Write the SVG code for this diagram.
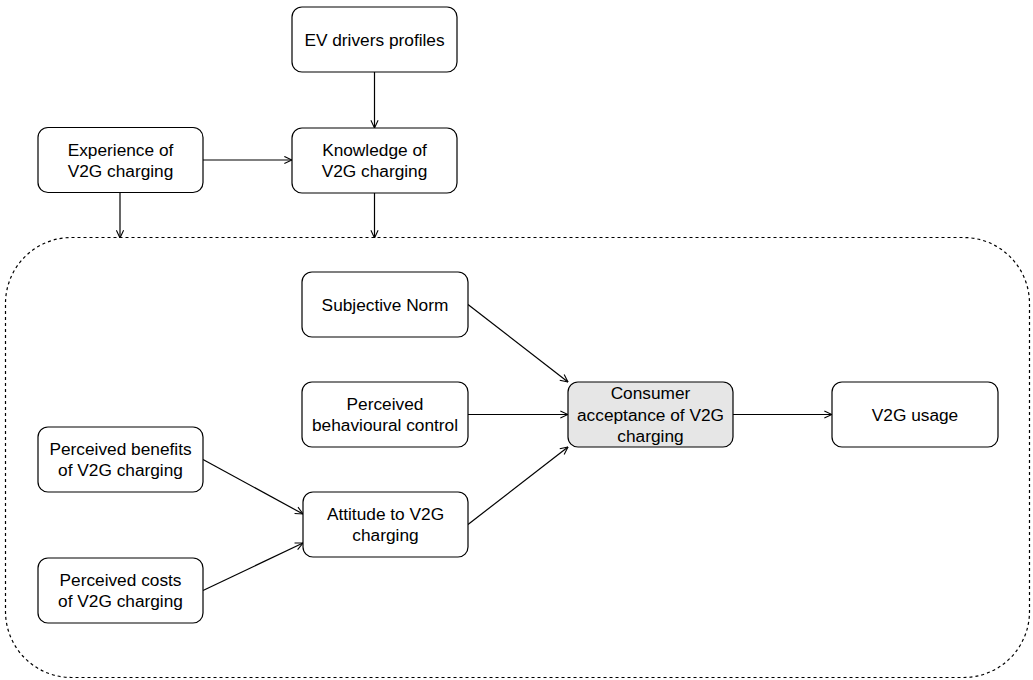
<svg xmlns="http://www.w3.org/2000/svg" width="1033" height="680" viewBox="0 0 1033 680">
<defs>
<style>
.n{fill:#fff;stroke:#000;stroke-width:1.2}
.g{fill:#e6e6e6}
.t{font-family:"Liberation Sans",Arial,sans-serif;font-size:17.3px;fill:#000;text-anchor:middle}
.e{fill:none;stroke:#000;stroke-width:1.2;marker-end:url(#a)}
</style>
<marker id="a" viewBox="0 0 10 10" refX="9.5" refY="5" markerWidth="9" markerHeight="9" markerUnits="userSpaceOnUse" orient="auto">
<path d="M1,1 L9.5,5 L1,9" fill="none" stroke="#000" stroke-width="1.2"/>
</marker>
</defs>
<rect id="container" x="5.5" y="237.5" width="1024" height="440" rx="66" ry="66" fill="none" stroke="#000" stroke-width="1.2" stroke-dasharray="3,3"/>
<g id="connectors">
<path class="e" d="M374.5,72 L374.5,128"/>
<path class="e" d="M203,160 L292,160"/>
<path class="e" d="M120,193 L120,238"/>
<path class="e" d="M374.5,193 L374.5,238"/>
<path class="e" d="M468,304.5 L568,382"/>
<path class="e" d="M468,414.5 L568,414.5"/>
<path class="e" d="M468,524.5 L568,447"/>
<path class="e" d="M203,459.5 L303,514"/>
<path class="e" d="M203,590.5 L303,543"/>
<path class="e" d="M733,414.5 L832,414.5"/>
</g>
<g id="ev"><rect class="n" x="292" y="7" width="165" height="65" rx="10"/><text class="t" x="374.5" y="45.5">EV drivers profiles</text></g>
<g id="knowledge"><rect class="n" x="292" y="128" width="165" height="65" rx="10"/><text class="t" x="374.5" y="155.7">Knowledge of</text><text class="t" x="374.5" y="177.3">V2G charging</text></g>
<g id="experience"><rect class="n" x="38" y="127.5" width="165" height="65" rx="10"/><text class="t" x="120.5" y="155.7">Experience of</text><text class="t" x="120.5" y="177.3">V2G charging</text></g>
<g id="subjective"><rect class="n" x="302" y="272" width="166" height="65" rx="10"/><text class="t" x="385" y="310.5">Subjective Norm</text></g>
<g id="pbc"><rect class="n" x="302" y="382" width="166" height="65" rx="10"/><text class="t" x="385" y="409.7">Perceived</text><text class="t" x="385" y="431.3">behavioural control</text></g>
<g id="consumer"><rect class="n g" x="568" y="382" width="165" height="65" rx="10"/><text class="t" x="650.5" y="398.9">Consumer</text><text class="t" x="650.5" y="420.5">acceptance of V2G</text><text class="t" x="650.5" y="442.1">charging</text></g>
<g id="usage"><rect class="n" x="832" y="382" width="166" height="65" rx="10"/><text class="t" x="915" y="420.5">V2G usage</text></g>
<g id="benefits"><rect class="n" x="38" y="427" width="165" height="65" rx="10"/><text class="t" x="120.5" y="454.7">Perceived benefits</text><text class="t" x="120.5" y="476.3">of V2G charging</text></g>
<g id="attitude"><rect class="n" x="303" y="492" width="165" height="65" rx="10"/><text class="t" x="385.5" y="519.7">Attitude to V2G</text><text class="t" x="385.5" y="541.3">charging</text></g>
<g id="costs"><rect class="n" x="38" y="558" width="165" height="65" rx="10"/><text class="t" x="120.5" y="585.7">Perceived costs</text><text class="t" x="120.5" y="607.3">of V2G charging</text></g>
</svg>
